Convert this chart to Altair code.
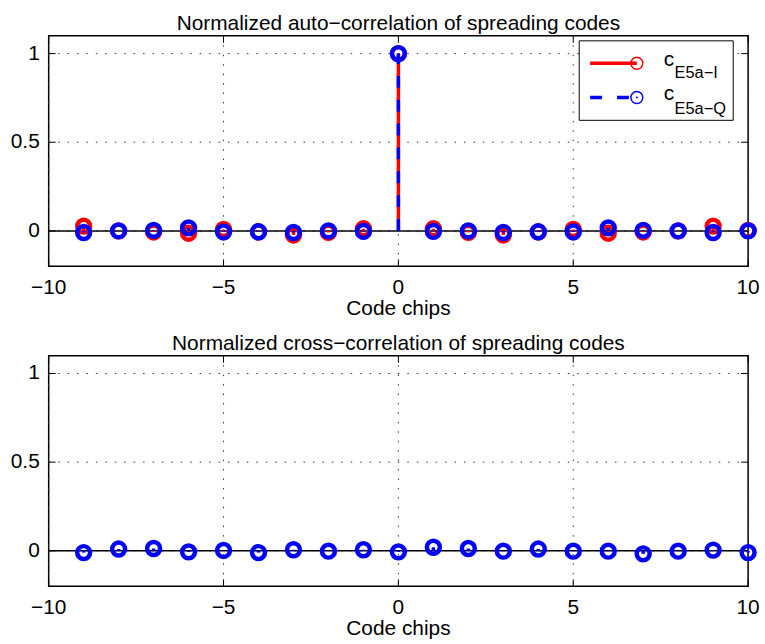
import altair as alt
import pandas as pd

# Lags in code chips
lags = [-9, -8, -7, -6, -5, -4, -3, -2, -1, 0, 1, 2, 3, 4, 5, 6, 7, 8, 9, 10]

# Normalized auto-correlation of the E5a-I and E5a-Q codes
auto_i = [0.027, 0.0, -0.006, -0.013, 0.008, -0.006, -0.023, -0.008, 0.012, 1.0,
          0.012, -0.008, -0.023, -0.006, 0.008, -0.013, -0.006, 0.0, 0.027, 0.003]
auto_q = [-0.009, 0.0, 0.003, 0.017, -0.006, -0.005, -0.009, 0.0, -0.003, 1.0,
          -0.003, 0.0, -0.009, -0.005, -0.006, 0.017, 0.003, 0.0, -0.009, 0.0]

# Normalized cross-correlation between the two codes
cross_iq = [-0.01, 0.01, 0.013, -0.006, 0.002, -0.01, 0.006, -0.002, 0.006, -0.006,
            0.02, 0.013, -0.002, 0.01, -0.002, -0.002, -0.017, -0.002, 0.004, -0.01]

x_ticks = [-10, -5, 0, 5, 10]
x_tick_labels = ["\u221210", "\u22125", "0", "5", "10"]
y_ticks = [0, 0.5, 1]
y_tick_labels = ["0", "0.5", "1"]
x_domain = [-10, 10]
y_domain = [-0.2, 1.1]

W, H = 704, 232
FONT = "Liberation Sans"
FS = 21
RED = "#ff0000"
BLUE = "#0000ff"
TICK_LEN = 7

x_scale = alt.Scale(domain=x_domain, nice=False, zero=False)
y_scale = alt.Scale(domain=y_domain, nice=False, zero=False)
X = lambda f: alt.X(f, scale=x_scale, axis=None)
Y = lambda f: alt.Y(f, scale=y_scale, axis=None)

one = pd.DataFrame({"k": [0]})


def series_frame(values):
    return pd.DataFrame({"lag": lags, "value": values, "base": [0.0] * len(lags)})


def stems(values, color, dash=None):
    mark = dict(color=color, strokeWidth=3.5)
    if dash:
        mark["strokeDash"] = dash
    return alt.Chart(series_frame(values)).mark_rule(**mark).encode(
        x=X("lag:Q"), y=Y("base:Q"), y2="value:Q")


def markers(values, color):
    return alt.Chart(series_frame(values)).mark_point(
        shape="circle", filled=False, color=color, size=169, strokeWidth=4.5, opacity=1
    ).encode(x=X("lag:Q"), y=Y("value:Q"))


def axes_layers():
    xt = pd.DataFrame({"t": x_ticks, "label": x_tick_labels})
    yt = pd.DataFrame({"t": y_ticks, "label": y_tick_labels})
    grid = dict(color="#333333", strokeWidth=1, strokeDash=[1.5, 8])
    tick = dict(color="black", strokeWidth=1)
    txt = dict(font=FONT, fontSize=FS, color="black")
    return [
        # dotted grid
        alt.Chart(xt).mark_rule(**grid).encode(x=X("t:Q"), y=alt.value(0), y2=alt.value(H)),
        alt.Chart(yt).mark_rule(**grid).encode(y=Y("t:Q"), x=alt.value(0), x2=alt.value(W)),
        # inward ticks on all four sides
        alt.Chart(xt).mark_rule(**tick).encode(x=X("t:Q"), y=alt.value(H), y2=alt.value(H - TICK_LEN)),
        alt.Chart(xt).mark_rule(**tick).encode(x=X("t:Q"), y=alt.value(0), y2=alt.value(TICK_LEN)),
        alt.Chart(yt).mark_rule(**tick).encode(y=Y("t:Q"), x=alt.value(0), x2=alt.value(TICK_LEN)),
        alt.Chart(yt).mark_rule(**tick).encode(y=Y("t:Q"), x=alt.value(W - TICK_LEN), x2=alt.value(W)),
        # tick labels
        alt.Chart(xt).mark_text(align="center", baseline="alphabetic", **txt).encode(
            x=X("t:Q"), y=alt.value(H + 27.5), text="label:N"),
        alt.Chart(yt).mark_text(align="right", baseline="middle", **txt).encode(
            y=Y("t:Q"), x=alt.value(-9), text="label:N"),
        # axis title
        alt.Chart(one).mark_text(text="Code chips", align="center", baseline="alphabetic", **txt).encode(
            x=alt.value(W / 2), y=alt.value(H + 49)),
    ]


def baseline():
    return alt.Chart(pd.DataFrame({"b": [0.0]})).mark_rule(color="black", strokeWidth=1.5).encode(
        y=Y("b:Q"), x=alt.value(0), x2=alt.value(W))


def panel_title(text):
    return alt.Chart(one).mark_text(text=text, font=FONT, fontSize=FS, color="black",
                                    align="center", baseline="alphabetic").encode(
        x=alt.value(W / 2), y=alt.value(-6))


def legend_layers():
    box = alt.Chart(one).mark_rect(fill="white", stroke="black", strokeWidth=1).encode(
        x=alt.value(534), x2=alt.value(689), y=alt.value(5), y2=alt.value(85))
    line_i = alt.Chart(one).mark_rule(color=RED, strokeWidth=3.5).encode(
        x=alt.value(545), x2=alt.value(592), y=alt.value(27.5))
    line_q = alt.Chart(one).mark_rule(color=BLUE, strokeWidth=3.5, strokeDash=[12, 15]).encode(
        x=alt.value(545), x2=alt.value(592), y=alt.value(62))
    mk_i = alt.Chart(one).mark_point(shape="circle", filled=False, color=RED, size=144,
                                     strokeWidth=1.5, opacity=1).encode(
        x=alt.value(592), y=alt.value(27.5))
    mk_q = alt.Chart(one).mark_point(shape="circle", filled=False, color=BLUE, size=144,
                                     strokeWidth=1.5, opacity=1).encode(
        x=alt.value(592), y=alt.value(62))
    dot_q = alt.Chart(one).mark_point(shape="circle", filled=True, color=BLUE, size=4,
                                      opacity=1).encode(x=alt.value(592), y=alt.value(62))
    txt = dict(font=FONT, color="black", align="left", baseline="alphabetic")
    c_i = alt.Chart(one).mark_text(text="c", fontSize=FS, **txt).encode(
        x=alt.value(619), y=alt.value(30))
    s_i = alt.Chart(one).mark_text(text="E5a\u2212I", fontSize=16.5, **txt).encode(
        x=alt.value(630), y=alt.value(42))
    c_q = alt.Chart(one).mark_text(text="c", fontSize=FS, **txt).encode(
        x=alt.value(619), y=alt.value(65))
    s_q = alt.Chart(one).mark_text(text="E5a\u2212Q", fontSize=16.5, **txt).encode(
        x=alt.value(630), y=alt.value(79))
    return [box, line_i, mk_i, line_q, mk_q, dot_q, c_i, s_i, c_q, s_q]


top = alt.layer(
    *axes_layers(),
    baseline(),
    stems(auto_i, RED),
    markers(auto_i, RED),
    stems(auto_q, BLUE, dash=[12, 12]),
    markers(auto_q, BLUE),
    *legend_layers(),
    panel_title("Normalized auto\u2212correlation of spreading codes"),
).properties(width=W, height=H)

bottom = alt.layer(
    *axes_layers(),
    baseline(),
    stems(cross_iq, BLUE, dash=[12, 12]),
    markers(cross_iq, BLUE),
    panel_title("Normalized cross\u2212correlation of spreading codes"),
).properties(width=W, height=H)

chart = alt.vconcat(top, bottom, spacing=90, bounds="flush").properties(
    padding={"left": 10, "top": 10, "right": 0, "bottom": 1},
    background="white",
).configure_view(stroke="black", strokeWidth=1.5)

chart.save("out.html", embed_options={"renderer": "svg", "actions": False})
